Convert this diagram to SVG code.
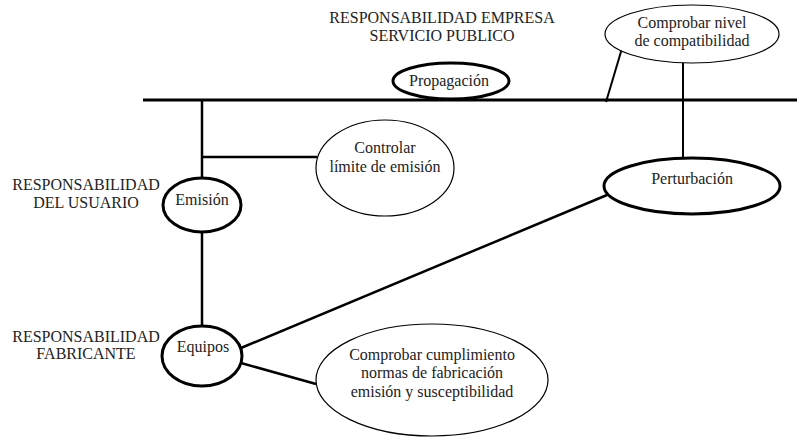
<svg xmlns="http://www.w3.org/2000/svg" width="800" height="439" viewBox="0 0 800 439">
<style>
text{font-family:"Liberation Serif","Times New Roman",serif;font-size:16px;fill:#222;text-anchor:middle}
.thick{fill:#fff;stroke:#000;stroke-width:3}
.thin{fill:#fff;stroke:#000;stroke-width:1.2}
.c line{stroke:#000;stroke-width:2.5;fill:none}
</style>
<rect width="800" height="439" fill="#fff"/>
<g class="c" id="connectors">
<line x1="143" y1="100" x2="797" y2="100" style="stroke-width:3"/>
<line x1="202" y1="100" x2="202" y2="178"/>
<line x1="202" y1="157" x2="317" y2="157"/>
<line x1="202" y1="232" x2="202" y2="326"/>
<line x1="241" y1="348" x2="607" y2="195"/>
<line x1="241" y1="363" x2="316" y2="384"/>
<line x1="683" y1="63" x2="683" y2="158" style="stroke-width:2"/>
<line x1="623" y1="45" x2="606" y2="102" style="stroke-width:2"/>
</g>
<g id="label-empresa">
<text x="442" y="23">RESPONSABILIDAD EMPRESA</text>
<text x="442" y="41">SERVICIO PUBLICO</text>
</g>
<g id="label-usuario">
<text x="86" y="190">RESPONSABILIDAD</text>
<text x="86" y="208">DEL USUARIO</text>
</g>
<g id="label-fabricante">
<text x="86" y="342">RESPONSABILIDAD</text>
<text x="86" y="359">FABRICANTE</text>
</g>
<g id="propagacion">
<ellipse class="thick" cx="451" cy="81" rx="58" ry="18"/>
<text x="449" y="86">Propagación</text>
</g>
<g id="comprobar-nivel">
<ellipse class="thin" cx="692" cy="34" rx="87" ry="29"/>
<text x="692" y="28">Comprobar nivel</text>
<text x="692" y="46">de compatibilidad</text>
</g>
<g id="controlar">
<ellipse class="thin" cx="385" cy="168" rx="69" ry="48"/>
<text x="385" y="153">Controlar</text>
<text x="385" y="172">límite de emisión</text>
</g>
<g id="emision">
<ellipse class="thick" cx="202" cy="205" rx="39" ry="27"/>
<text x="202" y="205">Emisión</text>
</g>
<g id="perturbacion">
<ellipse class="thick" cx="692" cy="186" rx="88" ry="28"/>
<text x="692" y="184">Perturbación</text>
</g>
<g id="equipos">
<ellipse class="thick" cx="202" cy="356" rx="40" ry="30"/>
<text x="203" y="352">Equipos</text>
</g>
<g id="comprobar-cumplimiento">
<ellipse class="thin" cx="432" cy="380" rx="116" ry="56"/>
<text x="432" y="360">Comprobar cumplimiento</text>
<text x="432" y="378">normas de fabricación</text>
<text x="432" y="397">emisión y susceptibilidad</text>
</g>
</svg>
